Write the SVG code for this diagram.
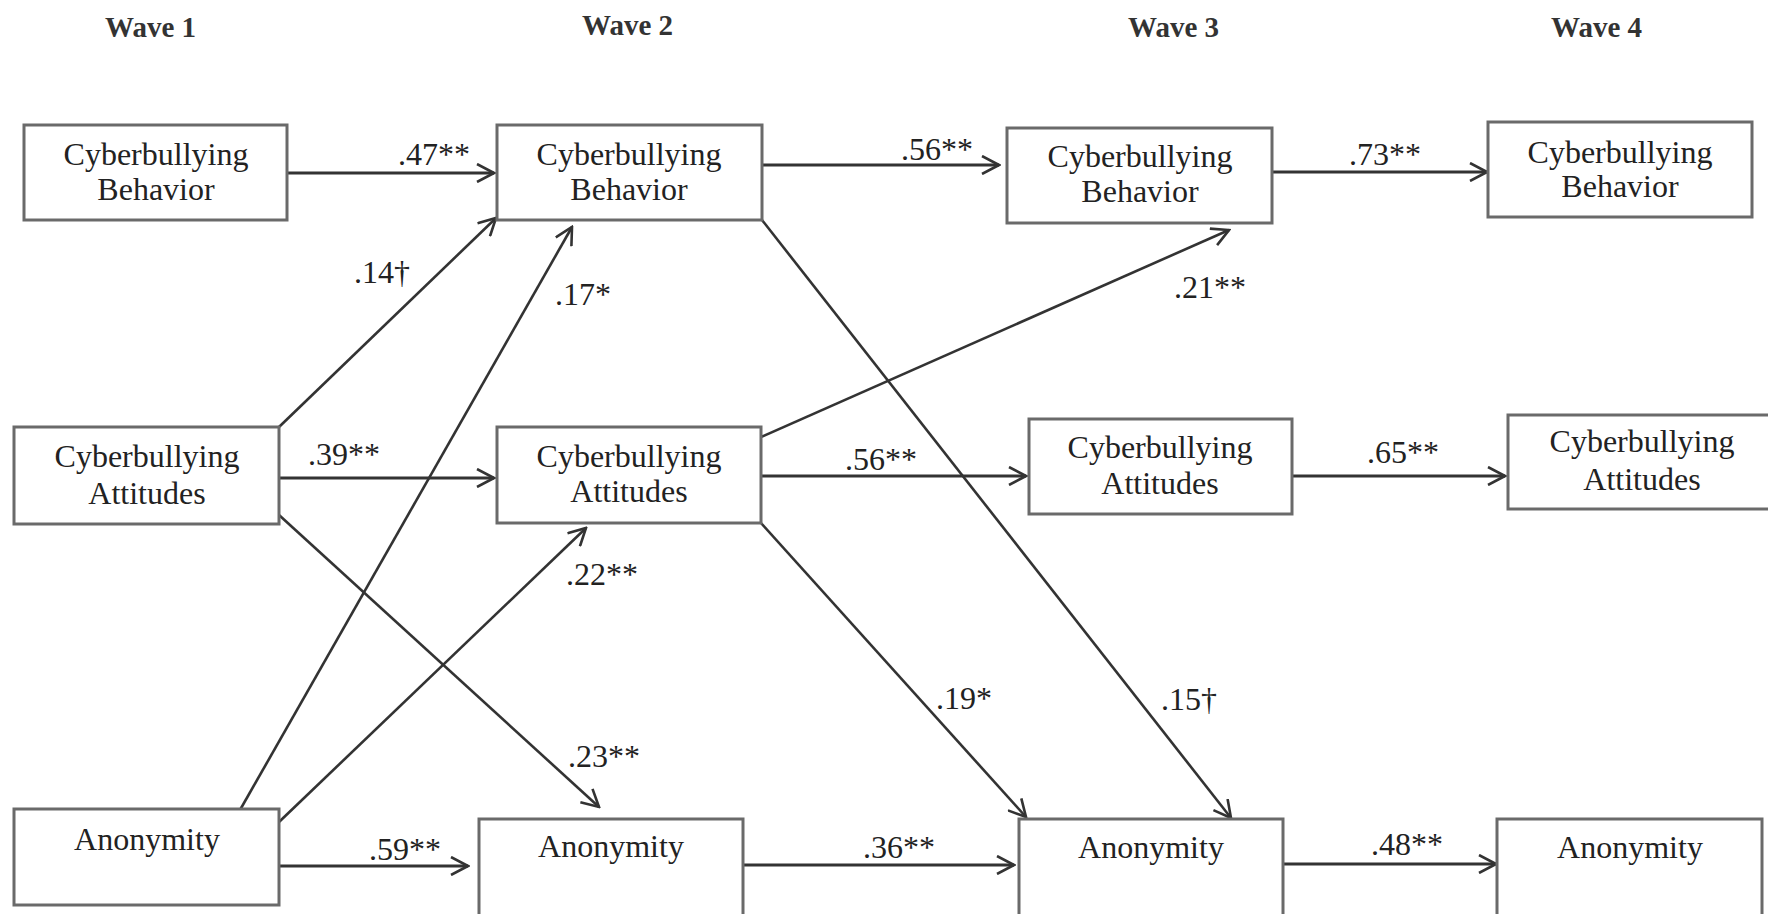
<svg xmlns="http://www.w3.org/2000/svg" width="1768" height="914" viewBox="0 0 1768 914">
<style>
text{font-family:"Liberation Serif","Times New Roman",serif;fill:#222}
.hd{font-size:29px;font-weight:bold;fill:#333}
.nt{font-size:32px;text-anchor:middle}
.lb{font-size:32px}
.box{fill:#fff;stroke:#6a6a6a;stroke-width:3}
.ln{stroke:#333;stroke-width:2.6;fill:none}
.ar{stroke:#333;stroke-width:3.2;fill:none;marker-end:url(#ah)}
</style>
<defs>
<marker id="ah" viewBox="0 0 20 20" refX="18" refY="10" markerWidth="20" markerHeight="20" markerUnits="userSpaceOnUse" orient="auto">
<path d="M1,1 L18,10 L1,19" fill="none" stroke="#333" stroke-width="2.6"/>
</marker>
</defs>
<rect width="1768" height="914" fill="#fff"/>
<g id="headers">
<text class="hd" x="105" y="37">Wave 1</text>
<text class="hd" x="582" y="35">Wave 2</text>
<text class="hd" x="1128" y="37">Wave 3</text>
<text class="hd" x="1551" y="37">Wave 4</text>
</g>
<g id="connectors">
<line class="ln" x1="279" y1="427" x2="496" y2="218" marker-end="url(#ah)"/>
<line class="ln" x1="240" y1="810" x2="572" y2="227" marker-end="url(#ah)"/>
<line class="ln" x1="279" y1="515" x2="599" y2="807" marker-end="url(#ah)"/>
<line class="ln" x1="279" y1="822" x2="586" y2="528" marker-end="url(#ah)"/>
<line class="ln" x1="761" y1="437" x2="1229" y2="230" marker-end="url(#ah)"/>
<line class="ln" x1="762" y1="220" x2="1231" y2="818" marker-end="url(#ah)"/>
<line class="ln" x1="761" y1="523" x2="1026" y2="817" marker-end="url(#ah)"/>
<line class="ar" x1="287" y1="173" x2="494" y2="173"/>
<line class="ar" x1="762" y1="165" x2="999" y2="165"/>
<line class="ar" x1="1272" y1="172" x2="1487" y2="172"/>
<line class="ar" x1="279" y1="478" x2="494" y2="478"/>
<line class="ar" x1="761" y1="476" x2="1026" y2="476"/>
<line class="ar" x1="1292" y1="476" x2="1505" y2="476"/>
<line class="ar" x1="279" y1="866" x2="468" y2="866"/>
<line class="ar" x1="743" y1="865" x2="1014" y2="865"/>
<line class="ar" x1="1283" y1="864" x2="1496" y2="864"/>
</g>
<g id="labels">
<text class="lb" x="398" y="165">.47**</text>
<text class="lb" x="901" y="160">.56**</text>
<text class="lb" x="1349" y="165">.73**</text>
<text class="lb" x="354" y="283">.14†</text>
<text class="lb" x="555" y="305">.17*</text>
<text class="lb" x="1174" y="298">.21**</text>
<text class="lb" x="308" y="465">.39**</text>
<text class="lb" x="845" y="470">.56**</text>
<text class="lb" x="1367" y="463">.65**</text>
<text class="lb" x="566" y="585">.22**</text>
<text class="lb" x="568" y="767">.23**</text>
<text class="lb" x="936" y="709">.19*</text>
<text class="lb" x="1161" y="710">.15†</text>
<text class="lb" x="369" y="860">.59**</text>
<text class="lb" x="863" y="858">.36**</text>
<text class="lb" x="1371" y="855">.48**</text>
</g>
<g id="w1-behavior"><rect class="box" x="24" y="125" width="263" height="95"/><text class="nt" x="156" y="165">Cyberbullying</text><text class="nt" x="156" y="200">Behavior</text></g>
<g id="w2-behavior"><rect class="box" x="497" y="125" width="265" height="95"/><text class="nt" x="629" y="165">Cyberbullying</text><text class="nt" x="629" y="200">Behavior</text></g>
<g id="w3-behavior"><rect class="box" x="1007" y="128" width="265" height="95"/><text class="nt" x="1140" y="167">Cyberbullying</text><text class="nt" x="1140" y="202">Behavior</text></g>
<g id="w4-behavior"><rect class="box" x="1488" y="122" width="264" height="95"/><text class="nt" x="1620" y="163">Cyberbullying</text><text class="nt" x="1620" y="197">Behavior</text></g>
<g id="w1-attitudes"><rect class="box" x="14" y="427" width="265" height="97"/><text class="nt" x="147" y="467">Cyberbullying</text><text class="nt" x="147" y="504">Attitudes</text></g>
<g id="w2-attitudes"><rect class="box" x="497" y="427" width="264" height="96"/><text class="nt" x="629" y="467">Cyberbullying</text><text class="nt" x="629" y="502">Attitudes</text></g>
<g id="w3-attitudes"><rect class="box" x="1029" y="419" width="263" height="95"/><text class="nt" x="1160" y="458">Cyberbullying</text><text class="nt" x="1160" y="494">Attitudes</text></g>
<g id="w4-attitudes"><rect class="box" x="1508" y="415" width="275" height="94"/><text class="nt" x="1642" y="452">Cyberbullying</text><text class="nt" x="1642" y="490">Attitudes</text></g>
<g id="w1-anonymity"><rect class="box" x="14" y="809" width="265" height="96"/><text class="nt" x="147" y="850">Anonymity</text></g>
<g id="w2-anonymity"><rect class="box" x="479" y="819" width="264" height="100"/><text class="nt" x="611" y="857">Anonymity</text></g>
<g id="w3-anonymity"><rect class="box" x="1019" y="819" width="264" height="100"/><text class="nt" x="1151" y="858">Anonymity</text></g>
<g id="w4-anonymity"><rect class="box" x="1497" y="819" width="265" height="100"/><text class="nt" x="1630" y="858">Anonymity</text></g>
</svg>
